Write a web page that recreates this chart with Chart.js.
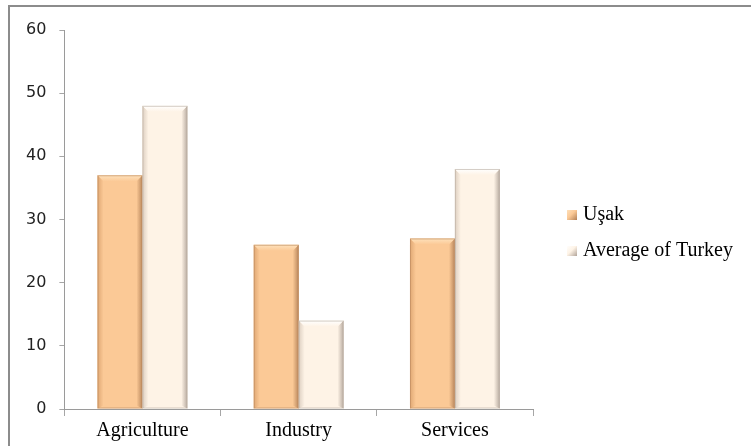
<!DOCTYPE html>
<html>
<head>
<meta charset="utf-8">
<script src="https://cdn.jsdelivr.net/npm/chart.js@4"></script>
<style>
  body { margin: 0; background: #fff; }
  #wrap { position: relative; width: 751px; height: 446px; overflow: hidden; }
  #frame {
    position: absolute; left: 8px; top: 5px; width: 780px; height: 480px;
    border: 2px solid #8c8c8c; pointer-events: none;
  }
</style>
</head>
<body>
<div id="wrap">
  <canvas id="sectorChart" width="751" height="446"></canvas>
  <div id="frame"></div>
</div>
<script>
var sectors = ["Agriculture", "Industry", "Services"];
var usak = [37, 26, 27];
var turkeyAverage = [48, 14, 38];
var yTicks = [0, 10, 20, 30, 40, 50, 60];

// fill, top bevel, left edge, right edge for each series
var shades = [
  { fill: "#fbc996", top: "#fee2bd", left: "#e0a874", right: "#b9875c", name: "Uşak" },
  { fill: "#fef3e6", top: "#ffffff", left: "#ddcfc1", right: "#b8aba0", name: "Average of Turkey" },
];

// draws the bevelled look on top of each plain bar
var bevelPlugin = {
  id: "bevel",
  afterDatasetsDraw(chart) {
    var ctx = chart.ctx;
    chart.data.datasets.forEach(function (ds, i) {
      var s = shades[i];
      chart.getDatasetMeta(i).data.forEach(function (bar) {
        var l = bar.x - bar.width / 2;
        var r = bar.x + bar.width / 2;
        var t = bar.y;
        var b = bar.base;
        var bv = 6;
        ctx.save();
        // left edge
        var g = ctx.createLinearGradient(l, 0, l + bv, 0);
        g.addColorStop(0, s.left);
        g.addColorStop(1, s.fill);
        ctx.fillStyle = g;
        ctx.beginPath();
        ctx.moveTo(l, t); ctx.lineTo(l + bv, t + bv); ctx.lineTo(l + bv, b - 3); ctx.lineTo(l, b);
        ctx.fill();
        // right edge
        g = ctx.createLinearGradient(r - bv, 0, r, 0);
        g.addColorStop(0, s.fill);
        g.addColorStop(1, s.right);
        ctx.fillStyle = g;
        ctx.beginPath();
        ctx.moveTo(r, t); ctx.lineTo(r - bv, t + bv); ctx.lineTo(r - bv, b - 3); ctx.lineTo(r, b);
        ctx.fill();
        // top bevel
        g = ctx.createLinearGradient(0, t, 0, t + bv);
        g.addColorStop(0, s.top);
        g.addColorStop(1, s.fill);
        ctx.fillStyle = g;
        ctx.beginPath();
        ctx.moveTo(l, t); ctx.lineTo(r, t); ctx.lineTo(r - bv, t + bv); ctx.lineTo(l + bv, t + bv);
        ctx.fill();
        // outline
        ctx.strokeStyle = s.right;
        ctx.globalAlpha = 0.6;
        ctx.lineWidth = 1;
        ctx.strokeRect(l + 0.5, t + 0.5, r - l - 1, b - t - 1);
        ctx.restore();
      });
    });
  },
};

// legend on the right side, drawn on the canvas
var sideLegend = {
  id: "sideLegend",
  afterDraw(chart) {
    var ctx = chart.ctx;
    var x = chart.chartArea.right + 34;
    var y0 = 214;
    ctx.save();
    ctx.font = "20px 'Liberation Serif', serif";
    ctx.textBaseline = "middle";
    shades.forEach(function (s, i) {
      var y = y0 + i * 36;
      var g = ctx.createLinearGradient(x, y - 5, x + 10, y + 5);
      g.addColorStop(0, s.top);
      g.addColorStop(0.5, s.fill);
      g.addColorStop(1, s.right);
      ctx.fillStyle = g;
      ctx.fillRect(x, y - 4, 10, 10);
      ctx.fillStyle = "#000";
      ctx.fillText(s.name, x + 16, y + 1);
    });
    ctx.restore();
  },
};

new Chart(document.getElementById("sectorChart"), {
  type: "bar",
  data: {
    labels: sectors,
    datasets: [
      { label: shades[0].name, data: usak, backgroundColor: shades[0].fill, borderWidth: 0 },
      { label: shades[1].name, data: turkeyAverage, backgroundColor: shades[1].fill, borderWidth: 0 },
    ],
  },
  options: {
    responsive: false,
    animation: false,
    events: [],
    categoryPercentage: 0.575,
    barPercentage: 1.0,
    layout: { padding: { left: 13, right: 218, top: 30, bottom: 0 } },
    plugins: {
      legend: { display: false },
      tooltip: { enabled: false },
    },
    scales: {
      x: {
        offset: true,
        grid: { offset: true, drawOnChartArea: false, tickLength: 7, color: "#a6a6a6" },
        border: { color: "#9a9a9a" },
        ticks: {
          color: "#000",
          padding: 5,
          font: { family: "'Liberation Serif', serif", size: 20, lineHeight: 1.0 },
        },
      },
      y: {
        min: yTicks[0],
        max: yTicks[yTicks.length - 1],
        afterBuildTicks(axis) {
          axis.ticks = yTicks.map(function (v) { return { value: v }; });
        },
        grid: { drawOnChartArea: false, tickLength: 5, color: "#a6a6a6" },
        border: { color: "#9a9a9a" },
        ticks: {
          color: "#222",
          padding: 13,
          font: { family: "'DejaVu Sans', sans-serif", size: 16 },
        },
      },
    },
  },
  plugins: [bevelPlugin, sideLegend],
});
</script>
</body>
</html>
